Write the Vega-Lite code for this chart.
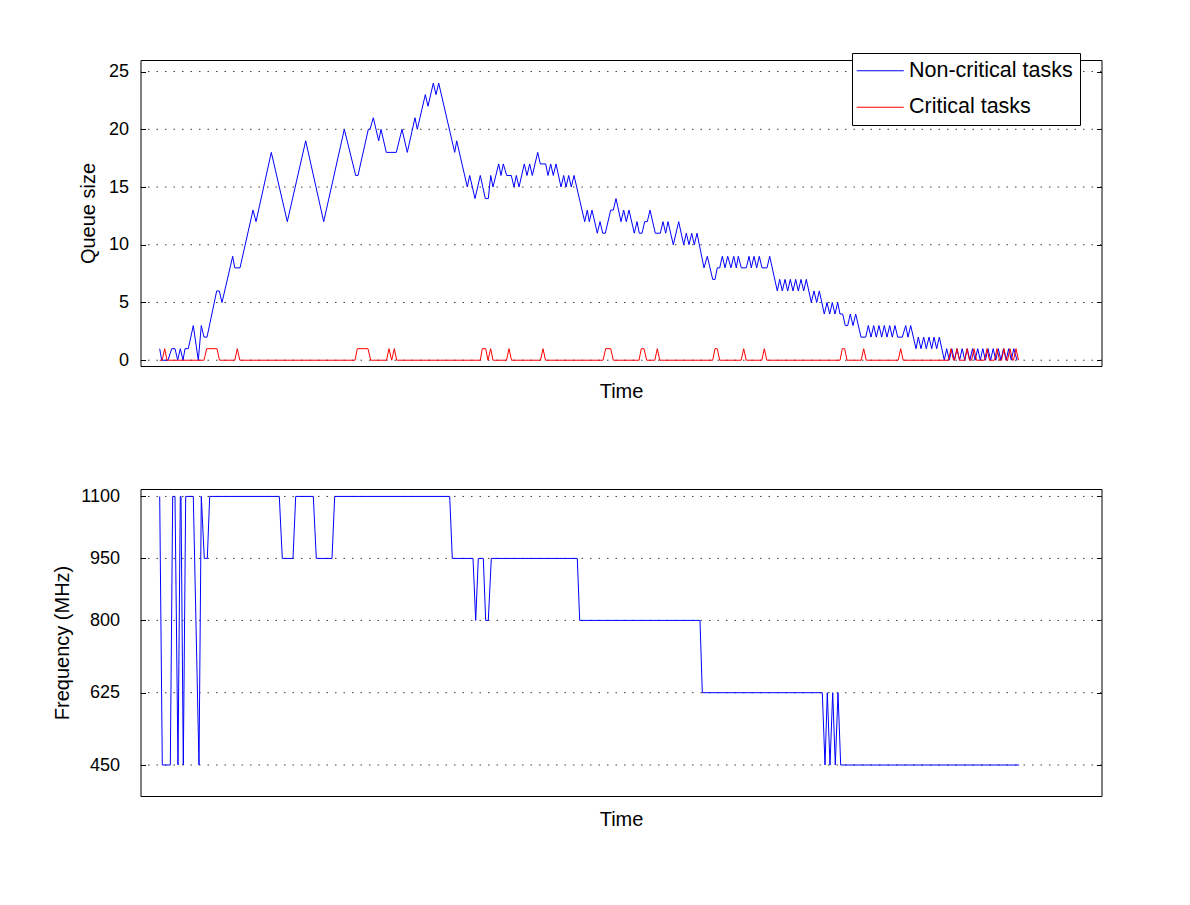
{
  "$schema": "https://vega.github.io/schema/vega-lite/v6.json",
  "background": "white",
  "padding": {"left": 51.5, "top": 52, "right": 0, "bottom": 0},
  "spacing": 84,
  "config": {
    "font": "Liberation Sans",
    "view": {"stroke": "black", "strokeWidth": 1},
    "axis": {
      "labelFont": "Liberation Sans",
      "labelFontSize": 18,
      "labelColor": "black",
      "titleFont": "Liberation Sans",
      "titleFontSize": 20,
      "titleFontWeight": "normal",
      "titleColor": "black",
      "domain": false,
      "grid": false,
      "tickColor": "black"
    }
  },
  "datasets": {
    "queue_grid": [{"level": 0}, {"level": 5}, {"level": 10}, {"level": 15}, {"level": 20}, {"level": 25}],
    "freq_grid": [{"level": 450}, {"level": 625}, {"level": 800}, {"level": 950}, {"level": 1100}],
    "queue": [
      {"t": 19.2, "size": 1, "tasks": "Non-critical tasks"}, {"t": 21.2, "size": 0, "tasks": "Non-critical tasks"}, {"t": 27.5, "size": 0, "tasks": "Non-critical tasks"}, {"t": 31.2, "size": 1, "tasks": "Non-critical tasks"}, {"t": 34.5, "size": 1, "tasks": "Non-critical tasks"}, {"t": 37.2, "size": 0, "tasks": "Non-critical tasks"}, {"t": 39.8, "size": 1, "tasks": "Non-critical tasks"}, {"t": 42.5, "size": 0, "tasks": "Non-critical tasks"}, {"t": 44.5, "size": 1, "tasks": "Non-critical tasks"}, {"t": 47.8, "size": 1, "tasks": "Non-critical tasks"},
      {"t": 52.8, "size": 3, "tasks": "Non-critical tasks"}, {"t": 57.8, "size": 0, "tasks": "Non-critical tasks"}, {"t": 60.8, "size": 3, "tasks": "Non-critical tasks"}, {"t": 63.5, "size": 2, "tasks": "Non-critical tasks"}, {"t": 66.5, "size": 2, "tasks": "Non-critical tasks"}, {"t": 76.2, "size": 6, "tasks": "Non-critical tasks"}, {"t": 78.8, "size": 6, "tasks": "Non-critical tasks"}, {"t": 81.5, "size": 5, "tasks": "Non-critical tasks"}, {"t": 92.2, "size": 9, "tasks": "Non-critical tasks"}, {"t": 94.2, "size": 8, "tasks": "Non-critical tasks"},
      {"t": 99.5, "size": 8, "tasks": "Non-critical tasks"}, {"t": 112.5, "size": 13, "tasks": "Non-critical tasks"}, {"t": 115.5, "size": 12, "tasks": "Non-critical tasks"}, {"t": 130.8, "size": 18, "tasks": "Non-critical tasks"}, {"t": 146.8, "size": 12, "tasks": "Non-critical tasks"}, {"t": 165.2, "size": 19, "tasks": "Non-critical tasks"}, {"t": 183.2, "size": 12, "tasks": "Non-critical tasks"}, {"t": 203.8, "size": 20, "tasks": "Non-critical tasks"}, {"t": 215.2, "size": 16, "tasks": "Non-critical tasks"}, {"t": 217.5, "size": 16, "tasks": "Non-critical tasks"},
      {"t": 227.8, "size": 20, "tasks": "Non-critical tasks"}, {"t": 229.5, "size": 20, "tasks": "Non-critical tasks"}, {"t": 232.8, "size": 21, "tasks": "Non-critical tasks"}, {"t": 238.2, "size": 19, "tasks": "Non-critical tasks"}, {"t": 240.5, "size": 20, "tasks": "Non-critical tasks"}, {"t": 245.8, "size": 18, "tasks": "Non-critical tasks"}, {"t": 255.8, "size": 18, "tasks": "Non-critical tasks"}, {"t": 261.5, "size": 20, "tasks": "Non-critical tasks"}, {"t": 266.8, "size": 18, "tasks": "Non-critical tasks"}, {"t": 274.5, "size": 21, "tasks": "Non-critical tasks"},
      {"t": 276.8, "size": 20, "tasks": "Non-critical tasks"}, {"t": 284.8, "size": 23, "tasks": "Non-critical tasks"}, {"t": 287.5, "size": 22, "tasks": "Non-critical tasks"}, {"t": 292.8, "size": 24, "tasks": "Non-critical tasks"}, {"t": 295.5, "size": 23, "tasks": "Non-critical tasks"}, {"t": 298.2, "size": 24, "tasks": "Non-critical tasks"}, {"t": 314.2, "size": 18, "tasks": "Non-critical tasks"}, {"t": 316.2, "size": 19, "tasks": "Non-critical tasks"}, {"t": 326.8, "size": 15, "tasks": "Non-critical tasks"}, {"t": 329.2, "size": 16, "tasks": "Non-critical tasks"},
      {"t": 334.5, "size": 14, "tasks": "Non-critical tasks"}, {"t": 339.8, "size": 16, "tasks": "Non-critical tasks"}, {"t": 344.8, "size": 14, "tasks": "Non-critical tasks"}, {"t": 347.8, "size": 14, "tasks": "Non-critical tasks"}, {"t": 350.2, "size": 16, "tasks": "Non-critical tasks"}, {"t": 352.5, "size": 15, "tasks": "Non-critical tasks"}, {"t": 358.2, "size": 17, "tasks": "Non-critical tasks"}, {"t": 360.5, "size": 16, "tasks": "Non-critical tasks"}, {"t": 362.8, "size": 17, "tasks": "Non-critical tasks"}, {"t": 366.2, "size": 16, "tasks": "Non-critical tasks"},
      {"t": 370.8, "size": 16, "tasks": "Non-critical tasks"}, {"t": 373.5, "size": 15, "tasks": "Non-critical tasks"}, {"t": 375.8, "size": 16, "tasks": "Non-critical tasks"}, {"t": 378.5, "size": 15, "tasks": "Non-critical tasks"}, {"t": 383.8, "size": 17, "tasks": "Non-critical tasks"}, {"t": 386.5, "size": 16, "tasks": "Non-critical tasks"}, {"t": 389.2, "size": 17, "tasks": "Non-critical tasks"}, {"t": 391.8, "size": 16, "tasks": "Non-critical tasks"}, {"t": 397.2, "size": 18, "tasks": "Non-critical tasks"}, {"t": 399.8, "size": 17, "tasks": "Non-critical tasks"},
      {"t": 405.2, "size": 17, "tasks": "Non-critical tasks"}, {"t": 407.5, "size": 16, "tasks": "Non-critical tasks"}, {"t": 410.2, "size": 17, "tasks": "Non-critical tasks"}, {"t": 412.8, "size": 16, "tasks": "Non-critical tasks"}, {"t": 415.5, "size": 17, "tasks": "Non-critical tasks"}, {"t": 420.5, "size": 15, "tasks": "Non-critical tasks"}, {"t": 423.2, "size": 16, "tasks": "Non-critical tasks"}, {"t": 425.5, "size": 15, "tasks": "Non-critical tasks"}, {"t": 428.2, "size": 16, "tasks": "Non-critical tasks"}, {"t": 430.8, "size": 15, "tasks": "Non-critical tasks"},
      {"t": 433.5, "size": 16, "tasks": "Non-critical tasks"}, {"t": 444.2, "size": 12, "tasks": "Non-critical tasks"}, {"t": 446.8, "size": 13, "tasks": "Non-critical tasks"}, {"t": 448.8, "size": 12, "tasks": "Non-critical tasks"}, {"t": 451.5, "size": 13, "tasks": "Non-critical tasks"}, {"t": 456.8, "size": 11, "tasks": "Non-critical tasks"}, {"t": 459.5, "size": 12, "tasks": "Non-critical tasks"}, {"t": 462.2, "size": 11, "tasks": "Non-critical tasks"}, {"t": 464.8, "size": 11, "tasks": "Non-critical tasks"}, {"t": 470.2, "size": 13, "tasks": "Non-critical tasks"},
      {"t": 472.8, "size": 13, "tasks": "Non-critical tasks"}, {"t": 475.5, "size": 14, "tasks": "Non-critical tasks"}, {"t": 480.5, "size": 12, "tasks": "Non-critical tasks"}, {"t": 483.2, "size": 13, "tasks": "Non-critical tasks"}, {"t": 485.8, "size": 12, "tasks": "Non-critical tasks"}, {"t": 488.5, "size": 13, "tasks": "Non-critical tasks"}, {"t": 493.8, "size": 11, "tasks": "Non-critical tasks"}, {"t": 496.5, "size": 12, "tasks": "Non-critical tasks"}, {"t": 498.8, "size": 11, "tasks": "Non-critical tasks"}, {"t": 501.5, "size": 11, "tasks": "Non-critical tasks"},
      {"t": 504.2, "size": 12, "tasks": "Non-critical tasks"}, {"t": 506.8, "size": 12, "tasks": "Non-critical tasks"}, {"t": 509.5, "size": 13, "tasks": "Non-critical tasks"}, {"t": 514.8, "size": 11, "tasks": "Non-critical tasks"}, {"t": 519.8, "size": 11, "tasks": "Non-critical tasks"}, {"t": 522.5, "size": 12, "tasks": "Non-critical tasks"}, {"t": 525.2, "size": 11, "tasks": "Non-critical tasks"}, {"t": 527.5, "size": 12, "tasks": "Non-critical tasks"}, {"t": 532.8, "size": 10, "tasks": "Non-critical tasks"}, {"t": 538.2, "size": 12, "tasks": "Non-critical tasks"},
      {"t": 543.2, "size": 10, "tasks": "Non-critical tasks"}, {"t": 545.8, "size": 11, "tasks": "Non-critical tasks"}, {"t": 548.5, "size": 10, "tasks": "Non-critical tasks"}, {"t": 551.2, "size": 11, "tasks": "Non-critical tasks"}, {"t": 553.8, "size": 10, "tasks": "Non-critical tasks"}, {"t": 556.5, "size": 11, "tasks": "Non-critical tasks"}, {"t": 563.5, "size": 8, "tasks": "Non-critical tasks"}, {"t": 566.8, "size": 9, "tasks": "Non-critical tasks"}, {"t": 572.2, "size": 7, "tasks": "Non-critical tasks"}, {"t": 574.5, "size": 7, "tasks": "Non-critical tasks"},
      {"t": 576.8, "size": 8, "tasks": "Non-critical tasks"}, {"t": 579.2, "size": 8, "tasks": "Non-critical tasks"}, {"t": 581.8, "size": 9, "tasks": "Non-critical tasks"}, {"t": 584.5, "size": 8, "tasks": "Non-critical tasks"}, {"t": 587.2, "size": 9, "tasks": "Non-critical tasks"}, {"t": 590.5, "size": 8, "tasks": "Non-critical tasks"}, {"t": 593.2, "size": 9, "tasks": "Non-critical tasks"}, {"t": 595.8, "size": 8, "tasks": "Non-critical tasks"}, {"t": 597.8, "size": 9, "tasks": "Non-critical tasks"}, {"t": 600.8, "size": 8, "tasks": "Non-critical tasks"},
      {"t": 605.8, "size": 8, "tasks": "Non-critical tasks"}, {"t": 608.5, "size": 9, "tasks": "Non-critical tasks"}, {"t": 610.8, "size": 8, "tasks": "Non-critical tasks"}, {"t": 613.5, "size": 9, "tasks": "Non-critical tasks"}, {"t": 616.2, "size": 8, "tasks": "Non-critical tasks"}, {"t": 618.8, "size": 9, "tasks": "Non-critical tasks"}, {"t": 621.5, "size": 8, "tasks": "Non-critical tasks"}, {"t": 626.5, "size": 8, "tasks": "Non-critical tasks"}, {"t": 629.2, "size": 9, "tasks": "Non-critical tasks"}, {"t": 636.8, "size": 6, "tasks": "Non-critical tasks"},
      {"t": 639.2, "size": 7, "tasks": "Non-critical tasks"}, {"t": 641.8, "size": 6, "tasks": "Non-critical tasks"}, {"t": 644.5, "size": 7, "tasks": "Non-critical tasks"}, {"t": 647.2, "size": 6, "tasks": "Non-critical tasks"}, {"t": 649.8, "size": 7, "tasks": "Non-critical tasks"}, {"t": 652.5, "size": 6, "tasks": "Non-critical tasks"}, {"t": 655.2, "size": 7, "tasks": "Non-critical tasks"}, {"t": 657.8, "size": 6, "tasks": "Non-critical tasks"}, {"t": 660.5, "size": 7, "tasks": "Non-critical tasks"}, {"t": 663.2, "size": 6, "tasks": "Non-critical tasks"},
      {"t": 665.8, "size": 7, "tasks": "Non-critical tasks"}, {"t": 670.8, "size": 5, "tasks": "Non-critical tasks"}, {"t": 673.5, "size": 6, "tasks": "Non-critical tasks"}, {"t": 676.2, "size": 5, "tasks": "Non-critical tasks"}, {"t": 678.8, "size": 6, "tasks": "Non-critical tasks"}, {"t": 683.8, "size": 4, "tasks": "Non-critical tasks"}, {"t": 686.5, "size": 5, "tasks": "Non-critical tasks"}, {"t": 689.2, "size": 4, "tasks": "Non-critical tasks"}, {"t": 691.8, "size": 5, "tasks": "Non-critical tasks"}, {"t": 694.5, "size": 4, "tasks": "Non-critical tasks"},
      {"t": 697.2, "size": 5, "tasks": "Non-critical tasks"}, {"t": 699.5, "size": 4, "tasks": "Non-critical tasks"}, {"t": 702.2, "size": 4, "tasks": "Non-critical tasks"}, {"t": 704.8, "size": 3, "tasks": "Non-critical tasks"}, {"t": 707.2, "size": 3, "tasks": "Non-critical tasks"}, {"t": 709.8, "size": 4, "tasks": "Non-critical tasks"}, {"t": 712.5, "size": 3, "tasks": "Non-critical tasks"}, {"t": 715.2, "size": 4, "tasks": "Non-critical tasks"}, {"t": 720.5, "size": 2, "tasks": "Non-critical tasks"}, {"t": 725.2, "size": 2, "tasks": "Non-critical tasks"},
      {"t": 727.8, "size": 3, "tasks": "Non-critical tasks"}, {"t": 730.5, "size": 2, "tasks": "Non-critical tasks"}, {"t": 733.2, "size": 3, "tasks": "Non-critical tasks"}, {"t": 735.8, "size": 2, "tasks": "Non-critical tasks"}, {"t": 738.5, "size": 3, "tasks": "Non-critical tasks"}, {"t": 741.2, "size": 2, "tasks": "Non-critical tasks"}, {"t": 743.8, "size": 3, "tasks": "Non-critical tasks"}, {"t": 746.5, "size": 2, "tasks": "Non-critical tasks"}, {"t": 749.2, "size": 3, "tasks": "Non-critical tasks"}, {"t": 751.8, "size": 2, "tasks": "Non-critical tasks"},
      {"t": 754.5, "size": 3, "tasks": "Non-critical tasks"}, {"t": 757.2, "size": 2, "tasks": "Non-critical tasks"}, {"t": 761.8, "size": 2, "tasks": "Non-critical tasks"}, {"t": 765.2, "size": 3, "tasks": "Non-critical tasks"}, {"t": 767.5, "size": 2, "tasks": "Non-critical tasks"}, {"t": 770.2, "size": 3, "tasks": "Non-critical tasks"}, {"t": 775.5, "size": 1, "tasks": "Non-critical tasks"}, {"t": 777.8, "size": 2, "tasks": "Non-critical tasks"}, {"t": 780.5, "size": 1, "tasks": "Non-critical tasks"}, {"t": 783.2, "size": 2, "tasks": "Non-critical tasks"},
      {"t": 785.8, "size": 1, "tasks": "Non-critical tasks"}, {"t": 788.5, "size": 2, "tasks": "Non-critical tasks"}, {"t": 791.2, "size": 1, "tasks": "Non-critical tasks"}, {"t": 793.5, "size": 2, "tasks": "Non-critical tasks"}, {"t": 796.2, "size": 1, "tasks": "Non-critical tasks"}, {"t": 798.8, "size": 2, "tasks": "Non-critical tasks"}, {"t": 803.8, "size": 0, "tasks": "Non-critical tasks"}, {"t": 806.2, "size": 1, "tasks": "Non-critical tasks"}, {"t": 808.8, "size": 0, "tasks": "Non-critical tasks"}, {"t": 811.3, "size": 1, "tasks": "Non-critical tasks"},
      {"t": 813.9, "size": 0, "tasks": "Non-critical tasks"}, {"t": 816.5, "size": 1, "tasks": "Non-critical tasks"}, {"t": 819.1, "size": 0, "tasks": "Non-critical tasks"}, {"t": 821.7, "size": 1, "tasks": "Non-critical tasks"}, {"t": 824.3, "size": 0, "tasks": "Non-critical tasks"}, {"t": 826.8, "size": 1, "tasks": "Non-critical tasks"}, {"t": 829.4, "size": 0, "tasks": "Non-critical tasks"}, {"t": 832.0, "size": 1, "tasks": "Non-critical tasks"}, {"t": 834.6, "size": 0, "tasks": "Non-critical tasks"}, {"t": 837.2, "size": 1, "tasks": "Non-critical tasks"},
      {"t": 839.8, "size": 0, "tasks": "Non-critical tasks"}, {"t": 842.3, "size": 1, "tasks": "Non-critical tasks"}, {"t": 844.9, "size": 0, "tasks": "Non-critical tasks"}, {"t": 847.5, "size": 1, "tasks": "Non-critical tasks"}, {"t": 850.1, "size": 0, "tasks": "Non-critical tasks"}, {"t": 852.7, "size": 1, "tasks": "Non-critical tasks"}, {"t": 855.3, "size": 0, "tasks": "Non-critical tasks"}, {"t": 857.8, "size": 1, "tasks": "Non-critical tasks"}, {"t": 860.4, "size": 0, "tasks": "Non-critical tasks"}, {"t": 863.0, "size": 1, "tasks": "Non-critical tasks"},
      {"t": 865.6, "size": 0, "tasks": "Non-critical tasks"}, {"t": 868.2, "size": 1, "tasks": "Non-critical tasks"}, {"t": 870.8, "size": 0, "tasks": "Non-critical tasks"}, {"t": 873.3, "size": 1, "tasks": "Non-critical tasks"}, {"t": 876.5, "size": 0, "tasks": "Non-critical tasks"},
      {"t": 19.2, "size": 0, "tasks": "Critical tasks"}, {"t": 21.7, "size": 0, "tasks": "Critical tasks"}, {"t": 24.2, "size": 1, "tasks": "Critical tasks"}, {"t": 26.5, "size": 0, "tasks": "Critical tasks"}, {"t": 63.5, "size": 0, "tasks": "Critical tasks"}, {"t": 66.2, "size": 1, "tasks": "Critical tasks"}, {"t": 76.5, "size": 1, "tasks": "Critical tasks"}, {"t": 79.0, "size": 0, "tasks": "Critical tasks"}, {"t": 94.3, "size": 0, "tasks": "Critical tasks"}, {"t": 96.8, "size": 1, "tasks": "Critical tasks"},
      {"t": 99.3, "size": 0, "tasks": "Critical tasks"}, {"t": 214.5, "size": 0, "tasks": "Critical tasks"}, {"t": 216.8, "size": 1, "tasks": "Critical tasks"}, {"t": 227.5, "size": 1, "tasks": "Critical tasks"}, {"t": 230.2, "size": 0, "tasks": "Critical tasks"}, {"t": 246.0, "size": 0, "tasks": "Critical tasks"}, {"t": 248.5, "size": 1, "tasks": "Critical tasks"}, {"t": 251.2, "size": 0, "tasks": "Critical tasks"}, {"t": 253.8, "size": 1, "tasks": "Critical tasks"}, {"t": 256.2, "size": 0, "tasks": "Critical tasks"},
      {"t": 339.8, "size": 0, "tasks": "Critical tasks"}, {"t": 341.8, "size": 1, "tasks": "Critical tasks"}, {"t": 345.2, "size": 1, "tasks": "Critical tasks"}, {"t": 347.5, "size": 0, "tasks": "Critical tasks"}, {"t": 350.2, "size": 1, "tasks": "Critical tasks"}, {"t": 352.5, "size": 0, "tasks": "Critical tasks"}, {"t": 366.0, "size": 0, "tasks": "Critical tasks"}, {"t": 368.5, "size": 1, "tasks": "Critical tasks"}, {"t": 371.0, "size": 0, "tasks": "Critical tasks"}, {"t": 400.0, "size": 0, "tasks": "Critical tasks"},
      {"t": 402.5, "size": 1, "tasks": "Critical tasks"}, {"t": 405.0, "size": 0, "tasks": "Critical tasks"}, {"t": 462.5, "size": 0, "tasks": "Critical tasks"}, {"t": 465.2, "size": 1, "tasks": "Critical tasks"}, {"t": 470.2, "size": 1, "tasks": "Critical tasks"}, {"t": 472.8, "size": 0, "tasks": "Critical tasks"}, {"t": 498.5, "size": 0, "tasks": "Critical tasks"}, {"t": 500.8, "size": 1, "tasks": "Critical tasks"}, {"t": 503.5, "size": 1, "tasks": "Critical tasks"}, {"t": 506.2, "size": 0, "tasks": "Critical tasks"},
      {"t": 514.3, "size": 0, "tasks": "Critical tasks"}, {"t": 516.8, "size": 1, "tasks": "Critical tasks"}, {"t": 519.3, "size": 0, "tasks": "Critical tasks"}, {"t": 572.2, "size": 0, "tasks": "Critical tasks"}, {"t": 574.5, "size": 1, "tasks": "Critical tasks"}, {"t": 576.8, "size": 1, "tasks": "Critical tasks"}, {"t": 579.2, "size": 0, "tasks": "Critical tasks"}, {"t": 600.7, "size": 0, "tasks": "Critical tasks"}, {"t": 603.2, "size": 1, "tasks": "Critical tasks"}, {"t": 605.7, "size": 0, "tasks": "Critical tasks"},
      {"t": 621.3, "size": 0, "tasks": "Critical tasks"}, {"t": 623.8, "size": 1, "tasks": "Critical tasks"}, {"t": 626.3, "size": 0, "tasks": "Critical tasks"}, {"t": 699.5, "size": 0, "tasks": "Critical tasks"}, {"t": 701.8, "size": 1, "tasks": "Critical tasks"}, {"t": 704.2, "size": 1, "tasks": "Critical tasks"}, {"t": 706.5, "size": 0, "tasks": "Critical tasks"}, {"t": 720.7, "size": 0, "tasks": "Critical tasks"}, {"t": 723.2, "size": 1, "tasks": "Critical tasks"}, {"t": 725.7, "size": 0, "tasks": "Critical tasks"},
      {"t": 757.7, "size": 0, "tasks": "Critical tasks"}, {"t": 760.2, "size": 1, "tasks": "Critical tasks"}, {"t": 762.7, "size": 0, "tasks": "Critical tasks"}, {"t": 808.0, "size": 0, "tasks": "Critical tasks"}, {"t": 810.5, "size": 1, "tasks": "Critical tasks"}, {"t": 813.0, "size": 0, "tasks": "Critical tasks"}, {"t": 814.0, "size": 0, "tasks": "Critical tasks"}, {"t": 816.5, "size": 1, "tasks": "Critical tasks"}, {"t": 819.0, "size": 0, "tasks": "Critical tasks"}, {"t": 824.0, "size": 0, "tasks": "Critical tasks"},
      {"t": 826.5, "size": 1, "tasks": "Critical tasks"}, {"t": 829.0, "size": 0, "tasks": "Critical tasks"}, {"t": 831.0, "size": 0, "tasks": "Critical tasks"}, {"t": 833.5, "size": 1, "tasks": "Critical tasks"}, {"t": 836.0, "size": 0, "tasks": "Critical tasks"}, {"t": 844.0, "size": 0, "tasks": "Critical tasks"}, {"t": 846.5, "size": 1, "tasks": "Critical tasks"}, {"t": 849.0, "size": 0, "tasks": "Critical tasks"}, {"t": 854.0, "size": 0, "tasks": "Critical tasks"}, {"t": 856.5, "size": 1, "tasks": "Critical tasks"},
      {"t": 859.0, "size": 0, "tasks": "Critical tasks"}, {"t": 861.0, "size": 0, "tasks": "Critical tasks"}, {"t": 863.5, "size": 1, "tasks": "Critical tasks"}, {"t": 866.0, "size": 0, "tasks": "Critical tasks"}, {"t": 867.0, "size": 0, "tasks": "Critical tasks"}, {"t": 869.5, "size": 1, "tasks": "Critical tasks"}, {"t": 872.0, "size": 0, "tasks": "Critical tasks"}, {"t": 873.0, "size": 0, "tasks": "Critical tasks"}, {"t": 875.5, "size": 1, "tasks": "Critical tasks"}, {"t": 878.0, "size": 0, "tasks": "Critical tasks"}
    ],
    "freq": [
      {"t": 19.2, "mhz": 1100}, {"t": 21.8, "mhz": 450}, {"t": 29.8, "mhz": 450}, {"t": 32.2, "mhz": 1100}, {"t": 34.5, "mhz": 1100}, {"t": 37.5, "mhz": 450}, {"t": 39.8, "mhz": 1100}, {"t": 40.5, "mhz": 1100}, {"t": 42.8, "mhz": 450}, {"t": 45.2, "mhz": 1100},
      {"t": 52.8, "mhz": 1100}, {"t": 58.5, "mhz": 450}, {"t": 60.8, "mhz": 1100}, {"t": 63.8, "mhz": 950}, {"t": 66.8, "mhz": 950}, {"t": 69.2, "mhz": 1100}, {"t": 138.8, "mhz": 1100}, {"t": 141.8, "mhz": 950}, {"t": 152.5, "mhz": 950}, {"t": 155.2, "mhz": 1100},
      {"t": 172.8, "mhz": 1100}, {"t": 175.8, "mhz": 950}, {"t": 191.5, "mhz": 950}, {"t": 194.2, "mhz": 1100}, {"t": 309.2, "mhz": 1100}, {"t": 311.8, "mhz": 950}, {"t": 332.5, "mhz": 950}, {"t": 335.2, "mhz": 800}, {"t": 337.8, "mhz": 950}, {"t": 342.8, "mhz": 950},
      {"t": 345.2, "mhz": 800}, {"t": 347.8, "mhz": 800}, {"t": 350.8, "mhz": 950}, {"t": 436.8, "mhz": 950}, {"t": 439.2, "mhz": 800}, {"t": 559.5, "mhz": 800}, {"t": 561.8, "mhz": 625}, {"t": 681.8, "mhz": 625}, {"t": 684.5, "mhz": 450}, {"t": 686.8, "mhz": 625},
      {"t": 689.5, "mhz": 450}, {"t": 692.2, "mhz": 625}, {"t": 694.8, "mhz": 450}, {"t": 697.5, "mhz": 625}, {"t": 700.2, "mhz": 450}, {"t": 878.5, "mhz": 450}
    ]
  },
  "vconcat": [
    {
      "width": 961,
      "height": 306,
      "layer": [
        {
          "data": {"name": "queue_grid"},
          "mark": {"type": "rule", "color": "#3a3a3a", "strokeWidth": 1, "strokeDash": [1.5, 7]},
          "encoding": {
            "y": {
              "field": "level", "type": "quantitative",
              "scale": {"domain": [-0.5, 26], "nice": false, "zero": false},
              "axis": {"orient": "right", "labels": false, "title": null, "values": [0, 5, 10, 15, 20, 25], "tickSize": -5, "grid": false}
            }
          }
        },
        {
          "data": {"name": "queue"},
          "transform": [{"filter": "datum.tasks === 'Non-critical tasks'"}],
          "mark": {"type": "line", "strokeWidth": 1, "clip": true},
          "encoding": {
            "x": {
              "field": "t", "type": "quantitative",
              "scale": {"domain": [0, 961], "nice": false, "zero": false},
              "axis": {"title": "Time", "labels": false, "ticks": false, "grid": false, "titlePadding": 15}
            },
            "y": {
              "field": "size", "type": "quantitative",
              "scale": {"domain": [-0.5, 26], "nice": false, "zero": false},
              "axis": {"title": "Queue size", "values": [0, 5, 10, 15, 20, 25], "tickSize": -5, "labelPadding": 17, "titlePadding": 9.5}
            },
            "color": {
              "field": "tasks", "type": "nominal",
              "scale": {"domain": ["Non-critical tasks", "Critical tasks"], "range": ["#0000ff", "#ff0000"]},
              "legend": {
                "orient": "none", "legendX": 711.5, "legendY": -7, "direction": "vertical", "title": null,
                "symbolType": "M-2.35,0H2.35", "symbolSize": 400, "symbolStrokeWidth": 1, "symbolOffset": 10.5,
                "labelFont": "Liberation Sans", "labelFontSize": 21.5, "labelColor": "black", "labelOffset": 18, "labelLimit": 400,
                "strokeColor": "black", "fillColor": "white", "padding": 7, "rowPadding": 13.5
              }
            }
          }
        },
        {
          "data": {"name": "queue"},
          "transform": [{"filter": "datum.tasks === 'Critical tasks'"}],
          "mark": {"type": "line", "strokeWidth": 1, "clip": true},
          "encoding": {
            "x": {
              "field": "t", "type": "quantitative",
              "scale": {"domain": [0, 961], "nice": false, "zero": false},
              "axis": {"title": "Time", "labels": false, "ticks": false, "grid": false, "titlePadding": 15}
            },
            "y": {
              "field": "size", "type": "quantitative",
              "scale": {"domain": [-0.5, 26], "nice": false, "zero": false},
              "axis": null
            },
            "color": {"field": "tasks", "type": "nominal"}
          }
        }
      ],
      "resolve": {"axis": {"y": "independent"}}
    },
    {
      "width": 961,
      "height": 307,
      "layer": [
        {
          "data": {"name": "freq_grid"},
          "mark": {"type": "rule", "color": "#3a3a3a", "strokeWidth": 1, "strokeDash": [1.5, 7]},
          "encoding": {
            "y": {
              "field": "level", "type": "quantitative",
              "scale": {"domain": [375, 1118], "nice": false, "zero": false},
              "axis": {"orient": "right", "labels": false, "title": null, "values": [450, 625, 800, 950, 1100], "tickSize": -5, "grid": false}
            }
          }
        },
        {
          "data": {"name": "freq"},
          "mark": {"type": "line", "strokeWidth": 1, "color": "#0000ff", "clip": true},
          "encoding": {
            "x": {
              "field": "t", "type": "quantitative",
              "scale": {"domain": [0, 961], "nice": false, "zero": false},
              "axis": {"title": "Time", "labels": false, "ticks": false, "grid": false, "titlePadding": 13}
            },
            "y": {
              "field": "mhz", "type": "quantitative",
              "scale": {"domain": [375, 1118], "nice": false, "zero": false},
              "axis": {"title": "Frequency (MHz)", "values": [450, 625, 800, 950, 1100], "format": "d", "tickSize": -5, "labelPadding": 26, "titlePadding": 8.5}
            }
          }
        }
      ],
      "resolve": {"axis": {"y": "independent"}}
    }
  ]
}
